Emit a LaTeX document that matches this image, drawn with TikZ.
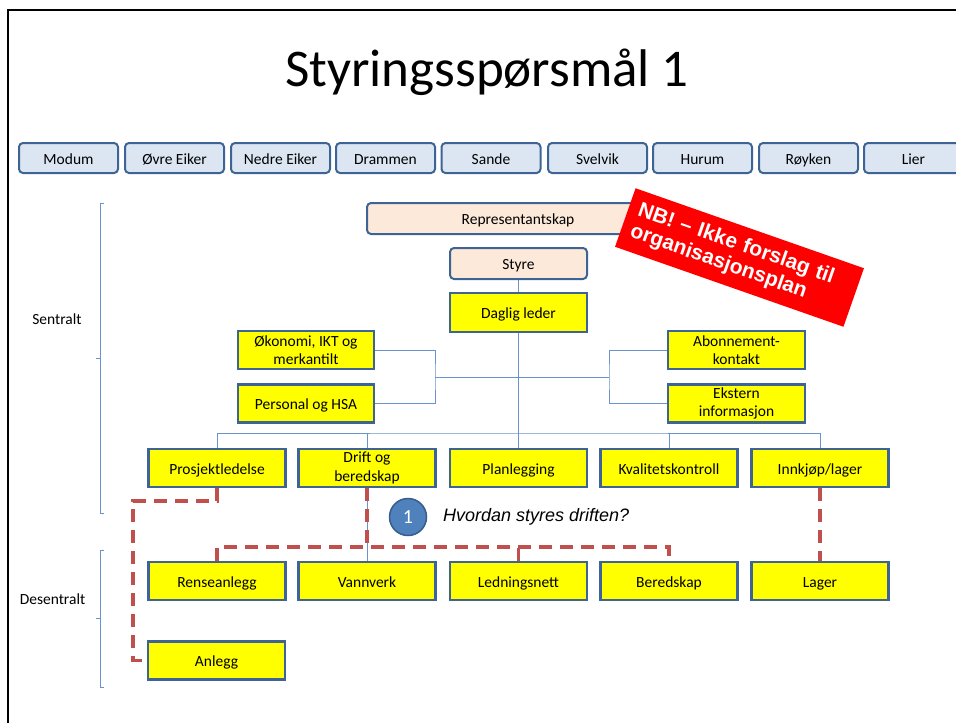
\documentclass[tikz,border=0pt]{standalone}
\usepackage{fontspec}
\setmainfont{Carlito}
\newfontfamily\arialfont{Liberation Sans}
\definecolor{boxedge}{HTML}{3D6494}
\definecolor{muniblue}{HTML}{DCE6F2}
\definecolor{govpeach}{HTML}{FDE9D9}
\definecolor{unityellow}{HTML}{FFFF00}
\definecolor{linkblue}{HTML}{6A93CB}
\definecolor{dashred}{HTML}{C0504D}
\definecolor{circblue}{HTML}{4F81BD}
\definecolor{circedge}{HTML}{385D8A}
\pgfdeclarelayer{paper}
\pgfdeclarelayer{links}
\pgfsetlayers{paper,links,main}
\begin{document}
\begin{tikzpicture}[x=1pt,y=-1pt,
  every node/.style={inner sep=0pt, font=\fontsize{15.5}{18.5}\selectfont},
  oneline/.style={text height=14.5pt, text depth=2.5pt},
  muni/.style={oneline, draw=boxedge, fill=muniblue, line width=2pt, rounded corners=4pt,
    minimum width=99pt, minimum height=30pt},
  gov/.style={oneline, draw=boxedge, fill=govpeach, line width=2pt, rounded corners=4pt,
    minimum height=31pt},
  unit/.style={draw=boxedge, fill=unityellow, line width=2.5pt,
    minimum width=137pt, minimum height=38pt, align=center},
  orgline/.style={draw=linkblue, line width=1pt},
  opsline/.style={draw=dashred, line width=3.5pt, dash pattern=on 13pt off 8pt},
  brace/.style={draw=linkblue, line width=1pt}
]
\useasboundingbox (0,0) rectangle (956,723);
\clip (0,0) rectangle (956,723);
\begin{pgfonlayer}{paper}
  \fill[white] (0,0) rectangle (956,723);
  \draw[line width=2.2pt] (8.3,730) -- (8.3,9.7) -- (960,9.7);
\end{pgfonlayer}

% heading
\node[anchor=base, font=\fontsize{53}{60}\selectfont] (title) at (487,86) {Styringsspørsmål 1};

% member municipalities
\node[muni] (m1) at (68.5,158) {Modum};
\node[muni] (m2) at (174.5,158) {Øvre Eiker};
\node[muni] (m3) at (280.5,158) {Nedre Eiker};
\node[muni] (m4) at (385.5,158) {Drammen};
\node[muni] (m5) at (491,158) {Sande};
\node[muni] (m6) at (597.5,158) {Svelvik};
\node[muni] (m7) at (702.5,158) {Hurum};
\node[muni] (m8) at (808.5,158) {Røyken};
\node[muni] (m9) at (913.5,158) {Lier};

% governing bodies and management
\node[gov, minimum width=302pt] (rep) at (518,218.5) {Representantskap};
\node[gov, minimum width=137pt] (styre) at (518.5,263.5) {Styre};
\node[unit, oneline, minimum height=39pt] (leder) at (518.5,312.5) {Daglig leder};

% staff functions
\node[unit, minimum width=136pt] (okon) at (306,350) {Økonomi, IKT og\\merkantilt};
\node[unit, oneline, minimum width=136pt] (pers) at (306,403.5) {Personal og HSA};
\node[unit] (abon) at (736.5,350) {Abonnement-\\kontakt};
\node[unit] (ekst) at (736.5,403.5) {Ekstern\\informasjon};

% central line functions
\node[unit, oneline] (prosj) at (217,468) {Prosjektledelse};
\node[unit] (drift) at (367,468) {Drift og\\beredskap};
\node[unit, oneline] (plan) at (518.5,468) {Planlegging};
\node[unit, oneline] (kval) at (669,468) {Kvalitetskontroll};
\node[unit, oneline] (innk) at (820,468) {Innkjøp/lager};

% local units
\node[unit, oneline] (rense) at (217,581) {Renseanlegg};
\node[unit, oneline] (vann) at (367,581) {Vannverk};
\node[unit, oneline] (ledn) at (518.5,581) {Ledningsnett};
\node[unit, oneline] (bered) at (669,581) {Beredskap};
\node[unit, oneline] (lager) at (820,581) {Lager};
\node[unit, oneline] (anlegg) at (216.5,660.5) {Anlegg};

% junction points
\coordinate (hub) at (518.5,433);
\coordinate (lj) at (435,377);
\coordinate (rj) at (609,377);
\coordinate (bus) at (518.5,547);
\coordinate (pk) at (133,501);

\begin{pgfonlayer}{links}
  \draw[orgline] (styre) -- (leder);
  \draw[orgline] (leder) -- (hub);
  \draw[orgline] (prosj.north) |- (hub) -| (innk.north);
  \draw[orgline] (drift.north) -- (drift.north |- hub);
  \draw[orgline] (plan.north) -- (hub);
  \draw[orgline] (kval.north) -- (kval.north |- hub);
  \draw[orgline] (okon.east) -| (lj) |- (pers.east);
  \draw[orgline] (lj) -- (rj);
  \draw[orgline] (abon.west) -| (rj) |- (ekst.west);
  \draw[orgline] (drift) -- (vann);
  % operational links
  \draw[opsline] (prosj.south) |- (pk) |- (anlegg.west);
  \draw[opsline] (drift.south) -- (drift.south |- bus);
  \draw[opsline] (rense.north) |- (bus) -| (bered.north);
  \draw[opsline] (ledn.north) -- (bus);
  \draw[opsline] (innk.south) -- (lager.north);
\end{pgfonlayer}

% question marker
\node[circle, fill=circblue, draw=circedge, line width=1.5pt, minimum size=37pt,
  text=white, font=\fontsize{20}{20}\selectfont] (q1) at (408,517) {1};
\node[anchor=west, font=\arialfont\itshape\fontsize{18}{20}\selectfont] (qtext)
  at (443,517) {Hvordan styres driften?};

% level brackets
\draw[brace] (104,203) -- (100,203) -- (100,513) -- (104,513);
\draw[brace] (96,358) -- (100,358);
\draw[brace] (104,550) -- (100,550) -- (100,687) -- (104,687);
\draw[brace] (96,618) -- (100,618);
\node[oneline] (sent) at (57,318) {Sentralt};
\node[oneline] (desent) at (52.5,598) {Desentralt};

% warning banner
\node[fill=red, rotate=-19.3, minimum width=242pt, minimum height=62pt,
  text width=222pt, align=left, text=white,
  font=\arialfont\bfseries\fontsize{21}{23}\selectfont] (nb) at (739.5,257.5)
  {NB! – Ikke forslag til\\organisasjonsplan};
\end{tikzpicture}
\end{document}
